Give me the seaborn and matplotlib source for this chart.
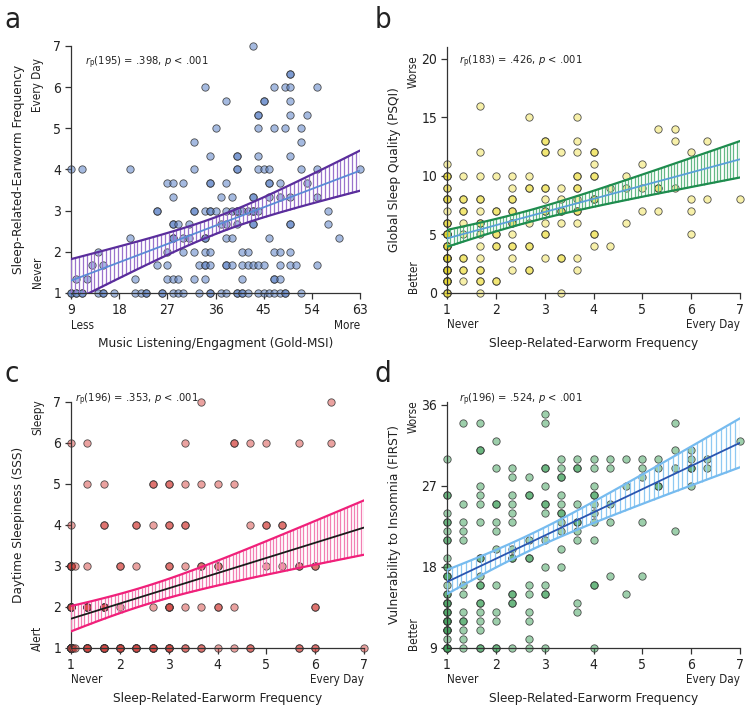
import numpy as np
import pandas as pd
import seaborn as sns
import matplotlib.pyplot as plt

# Panel a: Gold-MSI (x) by sleep-related-earworm frequency level (y)
a_y_levels = [7, 6.33, 6, 5.67, 5.33, 5, 4.67, 4.33, 4, 3.67, 3.33, 3, 2.67, 2.33, 2, 1.67, 1.33, 1]
a_x_by_level = [
    [43],
    [50, 50],
    [34, 47, 49, 50, 55],
    [38, 45, 45, 50],
    [44, 44, 50, 53],
    [36, 44, 47, 49, 52],
    [32, 52],
    [35, 40, 40, 44, 50],
    [9, 11, 20, 32, 40, 40, 44, 45, 46, 52, 55, 63],
    [27, 28, 30, 35, 35, 38, 46, 46, 48, 53],
    [28, 37, 39, 43, 43, 46, 48, 50, 55],
    [25, 25, 32, 32, 34, 35, 35, 36, 38, 39, 40, 40, 41, 42, 43, 43, 44, 57],
    [28, 28, 29, 31, 37, 38, 40, 43, 43, 50, 50, 57],
    [20, 28, 28, 30, 31, 34, 34, 38, 39, 46, 59],
    [14, 27, 30, 32, 34, 35, 41, 42, 47, 48, 50],
    [13, 15, 25, 27, 33, 34, 34, 35, 38, 38, 39, 41, 42, 43, 44, 45, 48, 50, 51, 55],
    [10, 12, 21, 27, 28, 29, 32, 34, 41, 47, 47, 48],
    [9, 9, 10, 10, 11, 11, 14, 15, 15, 17, 21, 22, 23, 23, 26, 26, 28, 29, 30, 33, 35, 35,
     37, 38, 40, 40, 41, 41, 42, 44, 45, 46, 47, 48, 49, 49, 52],
]

# Panel b: PSQI (y) by earworm frequency level (x)
b_x_levels = [1, 1.33, 1.67, 2, 2.33, 2.67, 3, 3.33, 3.67, 4, 4.33, 4.67, 5, 5.33, 5.67, 6, 6.33, 7]
b_y_by_level = [
    [0, 0, 0, 1, 1, 1, 1, 1, 2, 2, 2, 2, 2, 2, 3, 3, 3, 3, 3, 3, 4, 4, 4, 4, 5, 5, 5, 5, 5,
     6, 6, 6, 7, 8, 8, 8, 9, 9, 10, 10, 10, 11],
    [1, 2, 2, 3, 3, 5, 6, 7, 7, 8, 8, 10],
    [0, 1, 1, 2, 2, 3, 4, 5, 6, 6, 7, 8, 8, 10, 12, 16],
    [1, 1, 4, 4, 5, 5, 7, 7, 10],
    [2, 3, 4, 4, 5, 6, 6, 7, 7, 8, 8, 9, 10],
    [2, 2, 4, 4, 6, 9, 9, 10, 15],
    [3, 5, 5, 6, 7, 7, 8, 9, 9, 12, 12, 13, 13],
    [0, 3, 3, 6, 7, 7, 8, 9, 12],
    [2, 3, 6, 7, 7, 8, 9, 9, 10, 10, 12, 13, 15],
    [4, 5, 5, 8, 8, 10, 10, 11, 12, 12],
    [4, 9],
    [6, 9, 10],
    [7, 9, 11],
    [7, 9, 9, 14],
    [9, 13, 14],
    [5, 7, 8, 12],
    [8, 13],
    [8],
]

# Panel c: SSS (y level) by earworm frequency (x)
c_y_levels = [7, 6, 5, 4, 3, 2, 1]
c_x_by_level = [
    [3.67, 6.33],
    [1, 1.33, 3.33, 4.33, 4.33, 4.67, 5, 5.67, 6.33],
    [1.33, 1.67, 2.67, 2.67, 3, 3, 3.33, 3.67, 4, 4.33],
    [1, 1.67, 1.67, 2.33, 2.33, 2.67, 3, 3, 3.33, 3.33, 4.67, 5, 5, 5.33, 5.33],
    [1, 1, 1, 1, 1, 1, 1, 1.08, 1.33, 2, 2, 2.33, 3, 3, 3.33, 3.67, 3.67, 4, 4, 5,
     5.33, 5.67, 5.67, 6, 6],
    [1, 1, 1, 1, 1, 1, 1, 1, 1.33, 1.33, 1.33, 1.33, 1.33, 1.67, 1.67, 1.67, 1.67,
     2, 2.67, 3, 3, 3, 3, 3.33, 3.67, 4, 4, 4.33, 6, 6],
    [1] * 30 + [1.05, 1.08, 1.33, 1.33, 1.33, 1.33, 1.33, 1.33, 1.33, 1.33,
                1.67, 1.67, 1.67, 1.67, 1.67, 1.67, 1.67, 1.67, 2, 2, 2, 2, 2, 2,
                2.33, 2.33, 2.33, 2.33, 2.33, 2.67, 2.67, 2.67, 2.67, 2.67,
                3, 3, 3, 3, 3, 3.33, 3.33, 3.67, 3.67, 4, 4.33, 4.67, 4.67,
                5.67, 5.67, 6, 6, 7],
]

# Panel d: FIRST (y) by earworm frequency level (x)
d_x_levels = [1, 1.33, 1.67, 2, 2.33, 2.67, 3, 3.33, 3.67, 4, 4.33, 4.67, 5, 5.33, 5.67, 6, 6.33, 7]
d_y_by_level = [
    [9, 9, 9, 9, 9, 10, 11, 11, 11, 11, 12, 12, 12, 12, 13, 13, 13, 14, 14, 14,
     15, 15, 16, 17, 17, 17, 18, 18, 19, 21, 21, 22, 23, 23, 24, 26, 26, 30],
    [9, 10, 11, 12, 12, 13, 15, 16, 21, 22, 23, 25, 34],
    [9, 9, 11, 12, 13, 14, 14, 16, 16, 17, 19, 19, 23, 25, 26, 27, 31, 31, 34],
    [9, 9, 12, 13, 16, 20, 22, 23, 25, 25, 29, 32],
    [9, 14, 14, 15, 15, 19, 19, 20, 23, 24, 25, 26, 28, 29],
    [9, 10, 12, 13, 15, 16, 19, 19, 21, 26, 26, 28],
    [9, 15, 15, 16, 18, 21, 24, 25, 25, 27, 29, 29, 34, 35],
    [18, 20, 22, 23, 24, 24, 25, 26, 28, 28, 29, 30],
    [13, 14, 21, 22, 23, 23, 25, 29, 29, 30],
    [9, 16, 16, 21, 23, 24, 25, 26, 26, 27, 29, 30],
    [17, 23, 25, 29, 30],
    [15, 27, 30],
    [17, 23, 28, 29, 30],
    [27, 27, 29, 30],
    [22, 29, 31, 34],
    [27, 29, 29, 30, 31],
    [29, 30],
    [32],
]

stats_text = [
    r'$r_{\rm p}$(195) = .398, $p$ < .001',
    r'$r_{\rm p}$(183) = .426, $p$ < .001',
    r'$r_{\rm p}$(196) = .353, $p$ < .001',
    r'$r_{\rm p}$(196) = .524, $p$ < .001',
]


def expand(levels, values_by_level, level_is_x):
    rows = []
    for lev, vals in zip(levels, values_by_level):
        for v in vals:
            rows.append((lev, v) if level_is_x else (v, lev))
    return pd.DataFrame(rows, columns=['x', 'y'])


def draw_panel(ax, df, face, fit_color, edge_color, hatch_color, n_hatch):
    x = df['x'].to_numpy(float)
    y = df['y'].to_numpy(float)
    sns.scatterplot(data=df, x='x', y='y', ax=ax, s=28, color=face,
                    edgecolor=(0.2, 0.2, 0.2, 0.85), linewidth=0.6,
                    legend=False, clip_on=False, zorder=2)

    # analytic 95% confidence band around the OLS fit
    slope, intercept = np.polyfit(x, y, 1)
    n = len(x)
    resid = y - (slope * x + intercept)
    s = np.sqrt(resid @ resid / (n - 2))
    sxx = ((x - x.mean()) ** 2).sum()
    grid = np.linspace(x.min(), x.max(), n_hatch)
    fit = slope * grid + intercept
    half = 1.97 * s * np.sqrt(1 / n + (grid - x.mean()) ** 2 / sxx)
    ax.vlines(grid, fit - half, fit + half, color=hatch_color, lw=0.9, zorder=3)
    ax.plot(grid, fit + half, color=edge_color, lw=1.6, zorder=3)
    ax.plot(grid, fit - half, color=edge_color, lw=1.6, zorder=3)

    sns.regplot(data=df, x='x', y='y', ax=ax, scatter=False, ci=None,
                color=fit_color, line_kws={'lw': 1.3, 'zorder': 4})


sns.set_theme(style='ticks')
plt.rcParams['font.family'] = ['DejaVu Sans']
plt.rcParams['font.stretch'] = 'condensed'
plt.rcParams['mathtext.fontset'] = 'dejavusans'
plt.rcParams['text.color'] = '#222222'

fig = plt.figure(figsize=(7.46, 7.05), dpi=100)
ax_a = fig.add_axes([0.0952, 0.5844, 0.3874, 0.3504])
ax_b = fig.add_axes([0.5992, 0.5844, 0.3928, 0.3489])
ax_c = fig.add_axes([0.0952, 0.0809, 0.3928, 0.3489])
ax_d = fig.add_axes([0.5992, 0.0809, 0.3928, 0.3489])

df_a = expand(a_y_levels, a_x_by_level, level_is_x=False)
df_b = expand(b_x_levels, b_y_by_level, level_is_x=True)
df_c = expand(c_y_levels, c_x_by_level, level_is_x=False)
df_d = expand(d_x_levels, d_y_by_level, level_is_x=True)

draw_panel(ax_a, df_a, (0.36, 0.51, 0.78, 0.55), '#5b8ad6', '#5a2d9c', '#9a72cc', 75)
draw_panel(ax_b, df_b, (0.92, 0.86, 0.16, 0.40), '#5aa0d8', '#1e8c4e', '#63b985', 90)
draw_panel(ax_c, df_c, (0.84, 0.28, 0.26, 0.50), '#1a1a1a', '#f0207a', '#f27fb2', 88)
draw_panel(ax_d, df_d, (0.24, 0.63, 0.35, 0.50), '#2a55b0', '#76bbef', '#8fc9f2', 62)

# (axis, xlim, xticks, ylim, yticks, xlabel, ylabel, x ends, y ends, y-end heights, stats pos)
panels = [
    (ax_a, (9, 63), np.arange(9, 64, 9), (1, 7), np.arange(1, 8),
     'Music Listening/Engagment (Gold-MSI)', 'Sleep-Related-Earworm Frequency',
     ('Less', 'More'), ('Never', 'Every Day'), (0.085, 0.842), (0.048, 0.93)),
    (ax_b, (1, 7), np.arange(1, 8), (0, 21), np.arange(0, 21, 5),
     'Sleep-Related-Earworm Frequency', 'Global Sleep Quality (PSQI)',
     ('Never', 'Every Day'), ('Better', 'Worse'), (0.065, 0.9), (0.04, 0.94)),
    (ax_c, (1, 7), np.arange(1, 8), (1, 7), np.arange(1, 8),
     'Sleep-Related-Earworm Frequency', 'Daytime Sleepiness (SSS)',
     ('Never', 'Every Day'), ('Alert', 'Sleepy'), (0.04, 0.94), (0.015, 1.01)),
    (ax_d, (1, 7), np.arange(1, 8), (9, 36.3), np.arange(9, 37, 9),
     'Sleep-Related-Earworm Frequency', 'Vulnerability to Insomnia (FIRST)',
     ('Never', 'Every Day'), ('Better', 'Worse'), (0.06, 0.94), (0.04, 1.01)),
]

for i, (ax, xlim, xt, ylim, yt, xlab, ylab, xends, yends, yend_pos, tpos) in enumerate(panels):
    ax.set_xlim(*xlim)
    ax.set_ylim(*ylim)
    ax.set_xticks(xt)
    ax.set_yticks(yt)
    ax.set_xlabel('')
    ax.set_ylabel('')
    ax.tick_params(direction='out', length=4, width=0.9, colors='#333333',
                   labelsize=10, labelcolor='#222222', pad=3)
    sns.despine(ax=ax)
    for sp in ('left', 'bottom'):
        ax.spines[sp].set_color('#333333')
        ax.spines[sp].set_linewidth(0.9)
    ax.set_facecolor('none')

    ax.text(0.5, -0.205, xlab, transform=ax.transAxes, ha='center', va='center', fontsize=9.7)
    ax.text(-0.18, 0.5, ylab, transform=ax.transAxes, ha='center', va='center',
            rotation=90, fontsize=9.7)
    ax.text(0.0, -0.13, xends[0], transform=ax.transAxes, ha='left', va='center', fontsize=8.4)
    ax.text(1.0, -0.13, xends[1], transform=ax.transAxes, ha='right', va='center', fontsize=8.4)
    ax.text(-0.115, yend_pos[0], yends[0], transform=ax.transAxes, ha='center', va='center',
            rotation=90, fontsize=8.4)
    ax.text(-0.115, yend_pos[1], yends[1], transform=ax.transAxes, ha='center', va='center',
            rotation=90, fontsize=8.4)
    ax.text(tpos[0], tpos[1], stats_text[i], transform=ax.transAxes, ha='left',
            va='center', fontsize=8)

fig.text(0.006, 0.992, 'a', fontsize=21, va='top', ha='left')
fig.text(0.502, 0.992, 'b', fontsize=21, va='top', ha='left')
fig.text(0.006, 0.49, 'c', fontsize=21, va='top', ha='left')
fig.text(0.502, 0.49, 'd', fontsize=21, va='top', ha='left')

fig.savefig('out.png', dpi=100)
